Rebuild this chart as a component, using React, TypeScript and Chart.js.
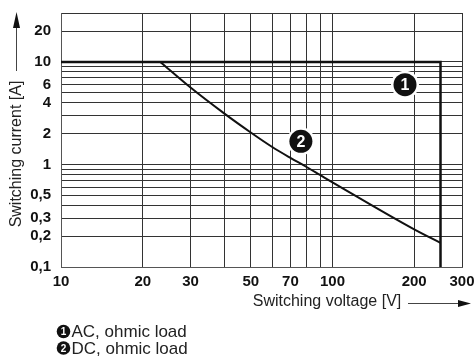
import React, { useEffect, useRef } from "react";
import { Chart, registerables } from "chart.js";

Chart.register(...registerables);

// ---- data ----
const xGridValues = [10, 20, 30, 40, 50, 60, 70, 80, 90, 100, 200, 300];
const xTickLabels = [10, 20, 30, 50, 70, 100, 200, 300];
const yGridValues = [0.1, 0.2, 0.3, 0.4, 0.5, 0.6, 0.7, 0.8, 0.9, 1, 2, 3, 4, 5, 6, 7, 8, 9, 10, 20, 30];
const yTickLabels = [0.1, 0.2, 0.3, 0.5, 1, 2, 4, 6, 10, 20];

const acVoltage = [10, 250, 250];
const acCurrent = [10, 10, 0.1];

const dcVoltage = [23.2, 30, 40, 50, 60, 70, 80, 90, 100, 200, 250];
const dcCurrent = [10, 5.62, 3.13, 2.05, 1.48, 1.16, 0.95, 0.79, 0.67, 0.233, 0.172];

const markerLabels = ["1", "2"];
const markerVoltage = [185, 76.5];
const markerCurrent = [6.0, 1.68];

const legendLabels = ["AC, ohmic load", "DC, ohmic load"];

const xTitle = "Switching voltage [V]";
const yTitle = "Switching current [A]";

const FONT = "'Liberation Sans', Arial, Helvetica, sans-serif";

function drawBadge(ctx: CanvasRenderingContext2D, x: number, y: number, r: number, text: string, fontSize: number, halo: number) {
  if (halo > 0) {
    ctx.beginPath();
    ctx.arc(x, y, r + halo, 0, Math.PI * 2);
    ctx.fillStyle = "#fff";
    ctx.fill();
  }
  ctx.beginPath();
  ctx.arc(x, y, r, 0, Math.PI * 2);
  ctx.fillStyle = "#111";
  ctx.fill();
  ctx.fillStyle = "#fff";
  ctx.font = `bold ${fontSize}px ${FONT}`;
  ctx.textAlign = "center";
  ctx.textBaseline = "middle";
  ctx.fillText(text, x, y + 1);
}

const decorPlugin = {
  id: "decor",
  afterDatasetsDraw(chart: any) {
    const ctx: CanvasRenderingContext2D = chart.ctx;
    const xs = chart.scales.x;
    const ys = chart.scales.y;
    ctx.save();
    markerLabels.forEach((lab, i) => {
      const px = xs.getPixelForValue(markerVoltage[i]);
      const py = ys.getPixelForValue(markerCurrent[i]);
      drawBadge(ctx, px, py, 11.5, lab, 16, 2.5);
    });
    ctx.restore();
  },
  afterDraw(chart: any) {
    const ctx: CanvasRenderingContext2D = chart.ctx;
    ctx.save();
    // Y title (rotated)
    ctx.fillStyle = "#222";
    ctx.font = `16px ${FONT}`;
    ctx.save();
    ctx.translate(17, 154);
    ctx.rotate(-Math.PI / 2);
    ctx.textAlign = "center";
    ctx.textBaseline = "middle";
    ctx.fillText(yTitle, 0, 0);
    ctx.restore();
    // Y arrow
    ctx.strokeStyle = "#444";
    ctx.lineWidth = 1;
    ctx.beginPath();
    ctx.moveTo(16.5, 71);
    ctx.lineTo(16.5, 26);
    ctx.stroke();
    ctx.fillStyle = "#111";
    ctx.beginPath();
    ctx.moveTo(16.5, 12);
    ctx.lineTo(13, 28);
    ctx.lineTo(20, 28);
    ctx.closePath();
    ctx.fill();

    // X title
    ctx.fillStyle = "#222";
    ctx.font = `16px ${FONT}`;
    ctx.textAlign = "center";
    ctx.textBaseline = "middle";
    ctx.fillText(xTitle, 327, 302);
    // X arrow
    ctx.strokeStyle = "#444";
    ctx.beginPath();
    ctx.moveTo(408, 303.5);
    ctx.lineTo(460, 303.5);
    ctx.stroke();
    ctx.fillStyle = "#111";
    ctx.beginPath();
    ctx.moveTo(471, 303.5);
    ctx.lineTo(458, 300);
    ctx.lineTo(458, 307);
    ctx.closePath();
    ctx.fill();

    // legend
    legendLabels.forEach((lab, i) => {
      const cy = 331.5 + i * 16.5;
      drawBadge(ctx, 63.5, cy, 6.8, String(i + 1), 10, 0);
      ctx.fillStyle = "#222";
      ctx.font = `17px ${FONT}`;
      ctx.textAlign = "left";
      ctx.textBaseline = "middle";
      ctx.fillText(lab, 71.5, cy + 1);
    });
    ctx.restore();
  },
};

export default function App() {
  const canvasRef = useRef<HTMLCanvasElement | null>(null);

  useEffect(() => {
    const canvas = canvasRef.current;
    if (!canvas) return;
    const fmt = (v: number) => String(v).replace(".", ",");
    const chart = new Chart(canvas, {
      type: "scatter",
      data: {
        datasets: [
          {
            label: "AC",
            data: acVoltage.map((v, i) => ({ x: v, y: acCurrent[i] })),
            showLine: true,
            borderColor: "#111",
            borderWidth: 2.5,
            pointRadius: 0,
            fill: false,
          },
          {
            label: "DC",
            data: dcVoltage.map((v, i) => ({ x: v, y: dcCurrent[i] })),
            showLine: true,
            borderColor: "#111",
            borderWidth: 2,
            pointRadius: 0,
            cubicInterpolationMode: "monotone",
            fill: false,
          },
        ],
      },
      options: {
        responsive: false,
        animation: false,
        devicePixelRatio: 1,
        layout: { padding: { left: 0, top: 13, right: 13, bottom: 0 } },
        plugins: { legend: { display: false }, tooltip: { enabled: false } },
        scales: {
          x: {
            type: "logarithmic",
            min: 10,
            max: 300,
            afterBuildTicks: (scale: any) => {
              scale.ticks = xGridValues.map((v) => ({ value: v }));
            },
            afterFit: (scale: any) => {
              scale.height = 91;
              scale.paddingLeft = 0;
              scale.paddingRight = 0;
            },
            ticks: {
              autoSkip: false,
              maxRotation: 0,
              padding: 6,
              color: "#111",
              font: { family: FONT, size: 15, weight: "bold" },
              callback: (v: any) => (xTickLabels.includes(Number(v)) ? fmt(Number(v)) : ""),
            },
            grid: { color: "#333", lineWidth: 1, drawTicks: false },
            border: { color: "#555", width: 1 },
          },
          y: {
            type: "logarithmic",
            min: 0.1,
            max: 30,
            afterBuildTicks: (scale: any) => {
              scale.ticks = yGridValues.map((v) => ({ value: v }));
            },
            afterFit: (scale: any) => {
              scale.width = 61;
              scale.paddingTop = 0;
              scale.paddingBottom = 0;
            },
            ticks: {
              autoSkip: false,
              padding: 10,
              color: "#111",
              font: { family: FONT, size: 15, weight: "bold" },
              callback: (v: any) => (yTickLabels.includes(Number(v)) ? fmt(Number(v)) : ""),
            },
            grid: { color: "#333", lineWidth: 1, drawTicks: false },
            border: { color: "#555", width: 1 },
          },
        },
      } as any,
      plugins: [decorPlugin],
    });
    return () => chart.destroy();
  }, []);

  return (
    <div style={{ position: "fixed", left: 0, top: 0, width: 475, height: 358, background: "#fff" }}>
      <canvas ref={canvasRef} width={475} height={358} style={{ display: "block" }} />
    </div>
  );
}
